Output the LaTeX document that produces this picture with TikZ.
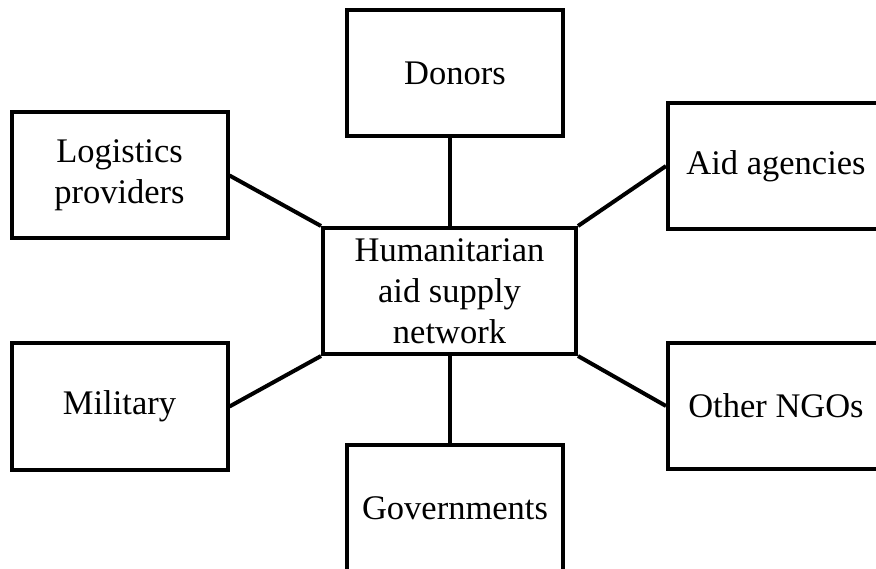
\documentclass[tikz,border=0pt]{standalone}
\usepackage{fontspec}
\setmainfont{Liberation Serif}
\usetikzlibrary{positioning}

\tikzset{
    actor/.style={draw, line width=4pt, minimum width=216pt, minimum height=126pt,
        align=center, inner sep=0pt, font=\fontsize{34.5}{41}\selectfont},
    link/.style={line width=4pt}
}

\begin{document}
\begin{tikzpicture}[x=1pt,y=-1pt]
    \useasboundingbox (0,0) rectangle (876,569);

    \node[actor, minimum width=253pt] (hub) at (449.5,291) {Humanitarian\\aid supply\\network};

    \node[actor] (donors) at (455,73) {Donors};
    \node[actor] (govs) at (455,508) {Governments};
    \node[actor] (logist) at (119.5,175.5) {Logistics\\providers};
    \node[actor] (military) at (119.5,406.5) {Military};
    \node[actor] (aid) at (776,166) {Aid agencies};
    \node[actor] (ngos) at (776,406) {Other NGOs};

    \draw[link] (hub.north) -- (hub.north |- donors.south);
    \draw[link] (hub.south) -- (hub.south |- govs.north);
    \draw[link] (hub.north west) -- (logist.east);
    \draw[link] (hub.south west) -- (military.east);
    \draw[link] (hub.north east) -- (aid.west);
    \draw[link] (hub.south east) -- (ngos.west);
\end{tikzpicture}
\end{document}
